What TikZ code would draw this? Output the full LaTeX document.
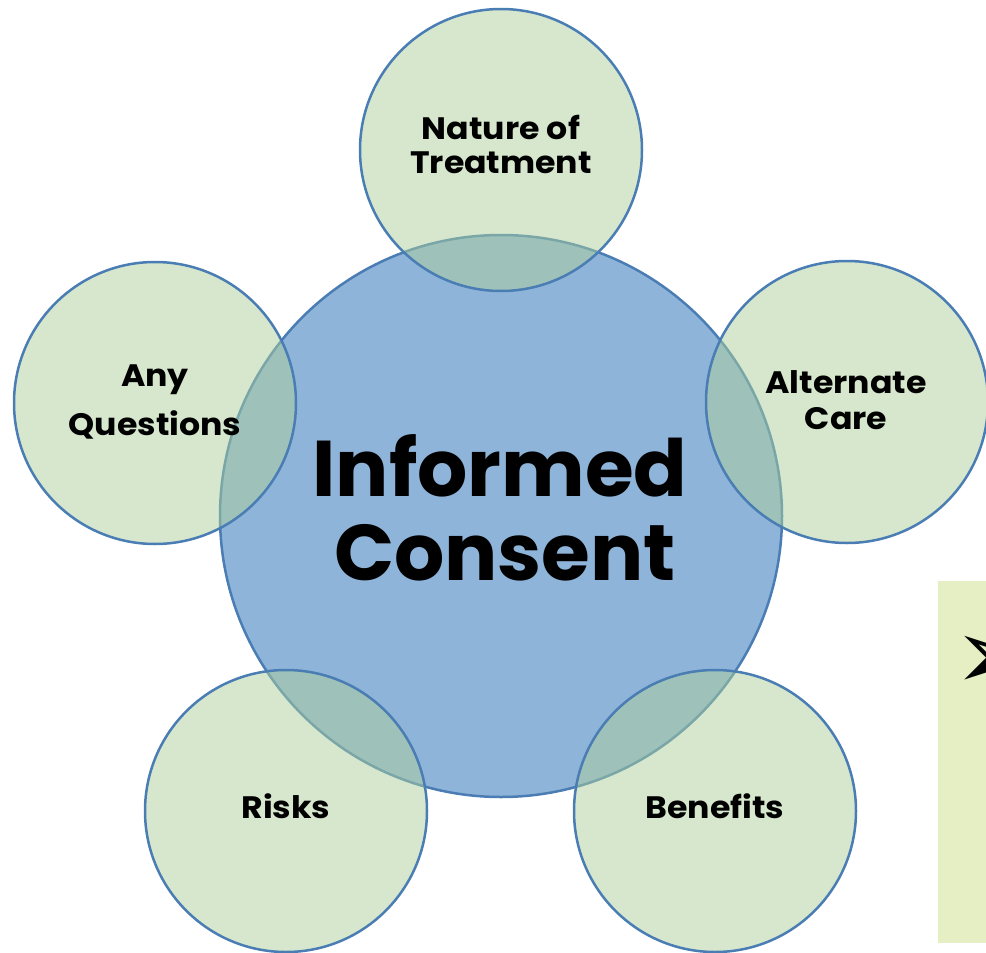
\documentclass[tikz,border=0pt]{standalone}
\usepackage{fontspec}
\setmainfont{Poppins}
\newfontfamily\labelfont{Poppins}[FakeStretch=1.07]
\newfontfamily\symfont{DejaVu Sans}
\definecolor{cblue}{RGB}{143,180,217}
\definecolor{cstroke}{RGB}{74,125,180}
\definecolor{cgreen}{RGB}{173,208,155}
\definecolor{cyellow}{RGB}{230,238,196}
\tikzset{
  hub/.style={circle,minimum size=562pt,inner sep=0pt,outer sep=0pt,fill=cblue,draw=cstroke,line width=2.5pt},
  sat/.style={circle,minimum size=282pt,inner sep=0pt,outer sep=0pt,fill=cgreen,fill opacity=0.5,draw=cstroke,draw opacity=1,line width=2.5pt},
  small/.style={anchor=base,inner sep=0pt,font=\labelfont\fontsize{31}{36}\selectfont\bfseries},
  big/.style={anchor=base,inner sep=0pt,font=\fontsize{79}{90}\selectfont\bfseries}
}
\begin{document}
\begin{tikzpicture}[x=1pt,y=-1pt]
\useasboundingbox (0,0) rectangle (986,953);
\fill[cyellow] (938,581) rectangle (990,943);
\node[anchor=base west,inner sep=0pt,font=\symfont\fontsize{100}{100}\selectfont] (bullet) at (953,689) {➢};
\node[hub] (hub) at (501,516) {};
\node[sat] (nat) at (501,150) {};
\node[sat] (alt) at (847,402) {};
\node[sat] (any) at (155,403) {};
\node[sat] (risk) at (286,811) {};
\node[sat] (ben) at (715,811) {};
\node[big] (inf) at (500,496) {Informed};
\node[big] (con) at (505,580) {Consent};
\node[small] (nat1) at (501,139) {Nature of};
\node[small] (nat2) at (501,173) {Treatment};
\node[small] (alt1) at (846,393) {Alternate};
\node[small] (alt2) at (846,429) {Care};
\node[small] (any1) at (155,386) {Any};
\node[small] (any2) at (155,435) {Questions};
\node[small] (risk1) at (286,818) {Risks};
\node[small] (ben1) at (715,818) {Benefits};
\end{tikzpicture}
\end{document}
